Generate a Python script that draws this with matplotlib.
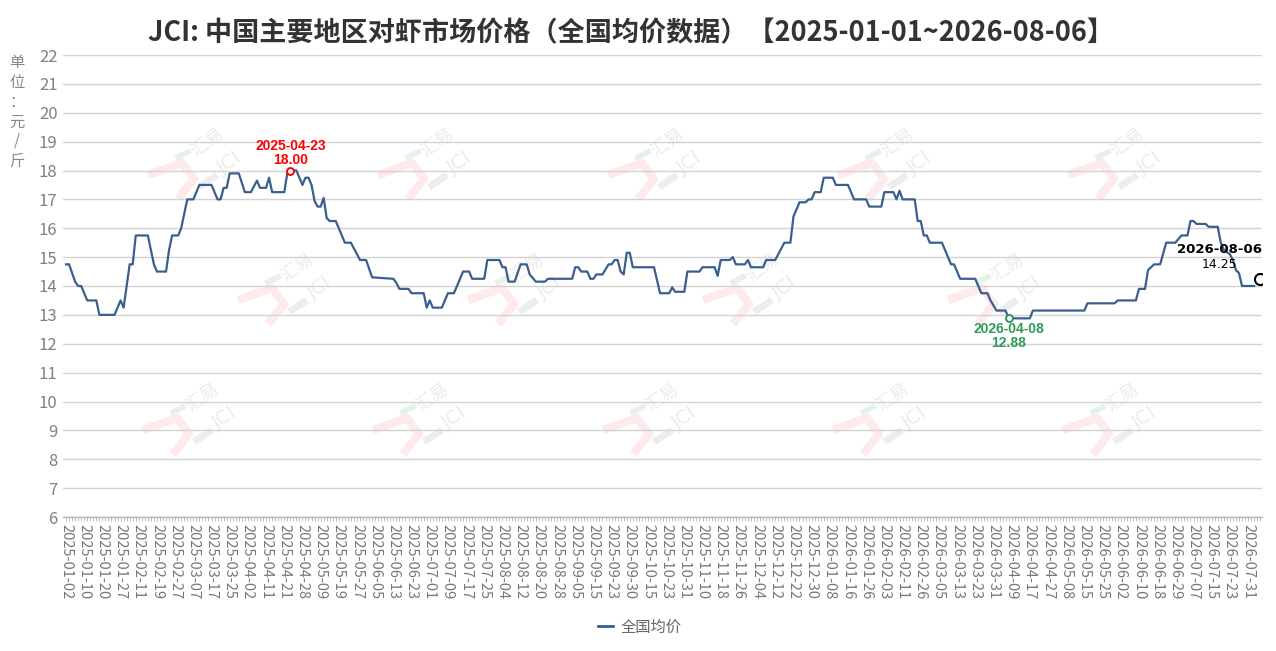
import pandas as pd
import matplotlib
matplotlib.use('Agg')
import matplotlib.pyplot as plt
from matplotlib.transforms import IdentityTransform
from matplotlib.lines import Line2D

plt.rcParams['font.family'] = ['Noto Sans CJK SC', 'DejaVu Sans']

# Chinese working-day calendar (weekday holidays removed, weekend make-up days added)
holidays = ['2025-01-28', '2025-01-29', '2025-01-30', '2025-01-31', '2025-02-03', '2025-02-04',
            '2025-04-04', '2025-05-01', '2025-05-02', '2025-05-05', '2025-06-02',
            '2025-10-01', '2025-10-02', '2025-10-03', '2025-10-06', '2025-10-07', '2025-10-08',
            '2026-01-01', '2026-01-02', '2026-02-16', '2026-02-17', '2026-02-18', '2026-02-19',
            '2026-02-20', '2026-02-23', '2026-04-06', '2026-05-01', '2026-05-04', '2026-05-05',
            '2026-06-19']
makeup_days = ['2025-01-26', '2025-02-08', '2025-04-27', '2025-09-28', '2025-10-11',
               '2026-01-04', '2026-02-14', '2026-02-28', '2026-05-09']

# price turning points: trading-day number -> national average price (yuan/jin)
key_day = [0, 1, 3, 4, 5, 7, 10, 11, 16, 18, 19, 21, 22, 23, 27, 29, 30, 33, 34, 35, 37, 38, 40, 42,
           44, 48, 50, 51, 52, 53, 54, 57, 59, 61, 63, 64, 66, 67, 68, 72, 73, 74, 76, 78, 79, 80,
           81, 82, 83, 84, 85, 86, 87, 89, 92, 94, 97, 99, 101, 108, 109, 110, 113, 114, 118, 119,
           120, 121, 124, 126, 128, 131, 133, 134, 138, 139, 143, 144, 145, 146, 148, 150, 152, 153,
           155, 158, 159, 167, 168, 169, 170, 172, 173, 174, 175, 177, 179, 180, 181, 182, 183, 184,
           185, 186, 187, 194, 196, 199, 200, 201, 204, 205, 209, 210, 214, 215, 216, 219, 220, 221,
           224, 225, 226, 230, 231, 234, 235, 237, 239, 240, 242, 244, 245, 246, 247, 249, 250, 253,
           254, 258, 260, 264, 265, 269, 270, 273, 274, 275, 276, 280, 281, 282, 283, 284, 285, 289,
           292, 293, 295, 300, 302, 304, 305, 307, 310, 311, 318, 319, 336, 337, 346, 347, 353, 354,
           356, 357, 359, 361, 363, 366, 368, 370, 371, 372, 373, 376, 377, 380, 381, 382, 384, 385,
           386, 387, 388, 392]
key_price = [14.75, 14.75, 14.15, 14.0, 14.0, 13.5, 13.5, 13.0, 13.0, 13.5, 13.25, 14.75, 14.75,
             15.75, 15.75, 14.75, 14.5, 14.5, 15.25, 15.75, 15.75, 16.0, 17.0, 17.0, 17.5, 17.5,
             17.0, 17.0, 17.4, 17.4, 17.9, 17.9, 17.25, 17.25, 17.65, 17.4, 17.4, 17.75, 17.25,
             17.25, 17.9, 18.0, 18.0, 17.5, 17.75, 17.75, 17.5, 16.95, 16.75, 16.75, 17.05, 16.35,
             16.25, 16.25, 15.5, 15.5, 14.9, 14.9, 14.3, 14.25, 14.1, 13.9, 13.9, 13.75, 13.75,
             13.25, 13.5, 13.25, 13.25, 13.75, 13.75, 14.5, 14.5, 14.25, 14.25, 14.9, 14.9, 14.65,
             14.65, 14.15, 14.15, 14.75, 14.75, 14.4, 14.15, 14.15, 14.25, 14.25, 14.65, 14.65,
             14.5, 14.5, 14.25, 14.25, 14.4, 14.4, 14.75, 14.75, 14.9, 14.9, 14.5, 14.4, 15.15,
             15.15, 14.65, 14.65, 13.75, 13.75, 13.95, 13.8, 13.8, 14.5, 14.5, 14.65, 14.65, 14.35,
             14.9, 14.9, 15.0, 14.75, 14.75, 14.9, 14.65, 14.65, 14.9, 14.9, 15.1, 15.5, 15.5, 16.4,
             16.9, 16.9, 17.0, 17.0, 17.25, 17.25, 17.75, 17.75, 17.5, 17.5, 17.0, 17.0, 16.75,
             16.75, 17.25, 17.25, 17.0, 17.3, 17.0, 17.0, 16.25, 16.25, 15.75, 15.75, 15.5, 15.5,
             14.75, 14.75, 14.25, 14.25, 13.75, 13.75, 13.5, 13.15, 13.15, 12.88, 12.88, 13.15,
             13.15, 13.4, 13.4, 13.5, 13.5, 13.9, 13.9, 14.55, 14.75, 14.75, 15.5, 15.5, 15.75,
             15.75, 16.25, 16.25, 16.15, 16.15, 16.05, 16.05, 15.5, 15.25, 15.1, 14.9, 14.55,
             14.45, 14.0, 14.0]
latest_price = 14.25  # value shown for the last date

series_name = '全国均价'
title = 'JCI: 中国主要地区对虾市场价格（全国均价数据）【2025-01-01~2026-08-06】'
y_unit = '单位：元/斤'

LINE = '#3a5f8f'
W, H = 1276, 651

trade_days = (pd.bdate_range('2025-01-02', '2026-08-06')
              .drop(pd.to_datetime(holidays))
              .union(pd.to_datetime(makeup_days)))
day_labels = [d.strftime('%Y-%m-%d') for d in trade_days]
n_days = len(day_labels)

fig = plt.figure(figsize=(W / 100, H / 100), dpi=100)
ax = fig.add_axes([63 / W, (H - 517) / H, 1199 / W, 462 / H])
ax.set_zorder(2)  # keep the plot above the watermarks


def watermark(cx, cy):
    """faint 汇易 JCI logo, (cx, cy) in image pixels from top-left"""
    pix = IdentityTransform()
    def p(dx, dy):
        return cx + dx, H - (cy + dy)
    xs, ys = zip(*[p(-52, 10), p(-18, -2), p(-6, 14), p(-22, 34)])
    fig.add_artist(Line2D(xs, ys, transform=pix, color='#feeaea', lw=6,
                          solid_capstyle='butt', zorder=0.5))
    xs, ys = zip(*[p(-22, -8), p(-12, -13)])
    fig.add_artist(Line2D(xs, ys, transform=pix, color='#e4f2e7', lw=4, zorder=0.5))
    xs, ys = zip(*[p(2, 20), p(14, 12)])
    fig.add_artist(Line2D(xs, ys, transform=pix, color='#ededed', lw=5, zorder=0.5))
    x, y = p(8, -22)
    fig.text(x / W, y / H, '汇易', rotation=35, fontsize=13, color='#ececec',
             ha='center', va='center', zorder=0.5)
    x, y = p(30, -2)
    fig.text(x / W, y / H, 'JCI', rotation=35, fontsize=14, color='#ececec',
             ha='center', va='center', zorder=0.5, family='DejaVu Sans')


for cx in (200, 430, 660, 890, 1120):
    watermark(cx, 165)
for cx in (290, 520, 755, 1000):
    watermark(cx, 290)
for cx in (195, 425, 655, 885, 1115):
    watermark(cx, 420)

ax.set_facecolor('none')
ax.plot(key_day, key_price, color=LINE, lw=1.6, zorder=3, solid_joinstyle='round')

# highest / lowest / latest markers
i_max = key_price.index(max(key_price))
i_min = key_price.index(min(key_price))
mx, my = key_day[i_max], key_price[i_max]
nx, ny = key_day[i_min], key_price[i_min]
lx = n_days - 1

ax.plot(mx, my, 'o', ms=5, mfc='white', mec='#ff0000', mew=1.4, zorder=4)
ax.annotate(day_labels[mx], (mx, my), xytext=(0, 24), textcoords='offset pixels',
            ha='center', va='center', color='#ff0000', fontsize=10, weight='bold',
            family='Liberation Sans')
ax.annotate(f'{my:.2f}', (mx, my), xytext=(0, 10), textcoords='offset pixels',
            ha='center', va='center', color='#ff0000', fontsize=10, weight='bold',
            family='Liberation Sans')

ax.plot(nx, ny, 'o', ms=5, mfc='white', mec='#2e9a5a', mew=1.4, zorder=4)
ax.annotate(day_labels[nx], (nx, ny), xytext=(0, -11), textcoords='offset pixels',
            ha='center', va='center', color='#2e9a5a', fontsize=10, weight='bold',
            family='Liberation Sans')
ax.annotate(f'{ny:.2f}', (nx, ny), xytext=(0, -25), textcoords='offset pixels',
            ha='center', va='center', color='#2e9a5a', fontsize=10, weight='bold',
            family='Liberation Sans')

ax.plot(lx, latest_price, 'o', ms=8, mfc='white', mec='black', mew=1.5, zorder=4,
        clip_on=True)
ax.annotate(day_labels[lx], (lx, latest_price), xytext=(-41, 29), textcoords='offset pixels',
            ha='center', va='center', color='black', fontsize=9.5, weight='bold',
            family='DejaVu Sans', zorder=5)
ax.annotate(f'{latest_price:.2f}', (lx, latest_price), xytext=(-41, 14),
            textcoords='offset pixels', ha='center', va='center', color='black',
            fontsize=9, family='DejaVu Sans', zorder=5)

ax.set_xlim(-1, 394.6)
ax.set_ylim(6, 22)
ax.set_yticks(range(6, 23))
ax.grid(axis='y', color='#d3d3d3', lw=1, zorder=1)
ax.set_axisbelow(True)
for s in ('top', 'right', 'left'):
    ax.spines[s].set_visible(False)
ax.spines['bottom'].set_color('#b5b5b5')
ax.spines['bottom'].set_linewidth(1)

ax.tick_params(axis='y', length=0, labelsize=12, labelcolor='#808080', pad=4)
ax.set_xticks(range(0, n_days, 6))
ax.set_xticklabels(day_labels[::6], rotation=270, fontsize=10.5, color='#777777')
ax.set_xticks(range(n_days), minor=True)
ax.tick_params(axis='x', which='both', length=3, width=0.6, color='#b5b5b5', pad=2)

fig.text(631.5 / W, (H - 33) / H, title, ha='center', va='center', fontsize=19.5,
         weight='bold', color='#333333')
fig.text(17 / W, (H - 112) / H, '\n'.join(y_unit), ha='center', va='center',
         fontsize=11, color='#888888', linespacing=1.2)

handle = Line2D([], [], color=LINE, lw=2)
leg = fig.legend([handle], [series_name], loc='center',
                 bbox_to_anchor=(640 / W, (H - 627) / H), frameon=False, fontsize=11,
                 handlelength=1.0, handletextpad=0.5)
for t in leg.get_texts():
    t.set_color('#666666')

fig.savefig('out.png', dpi=100)
